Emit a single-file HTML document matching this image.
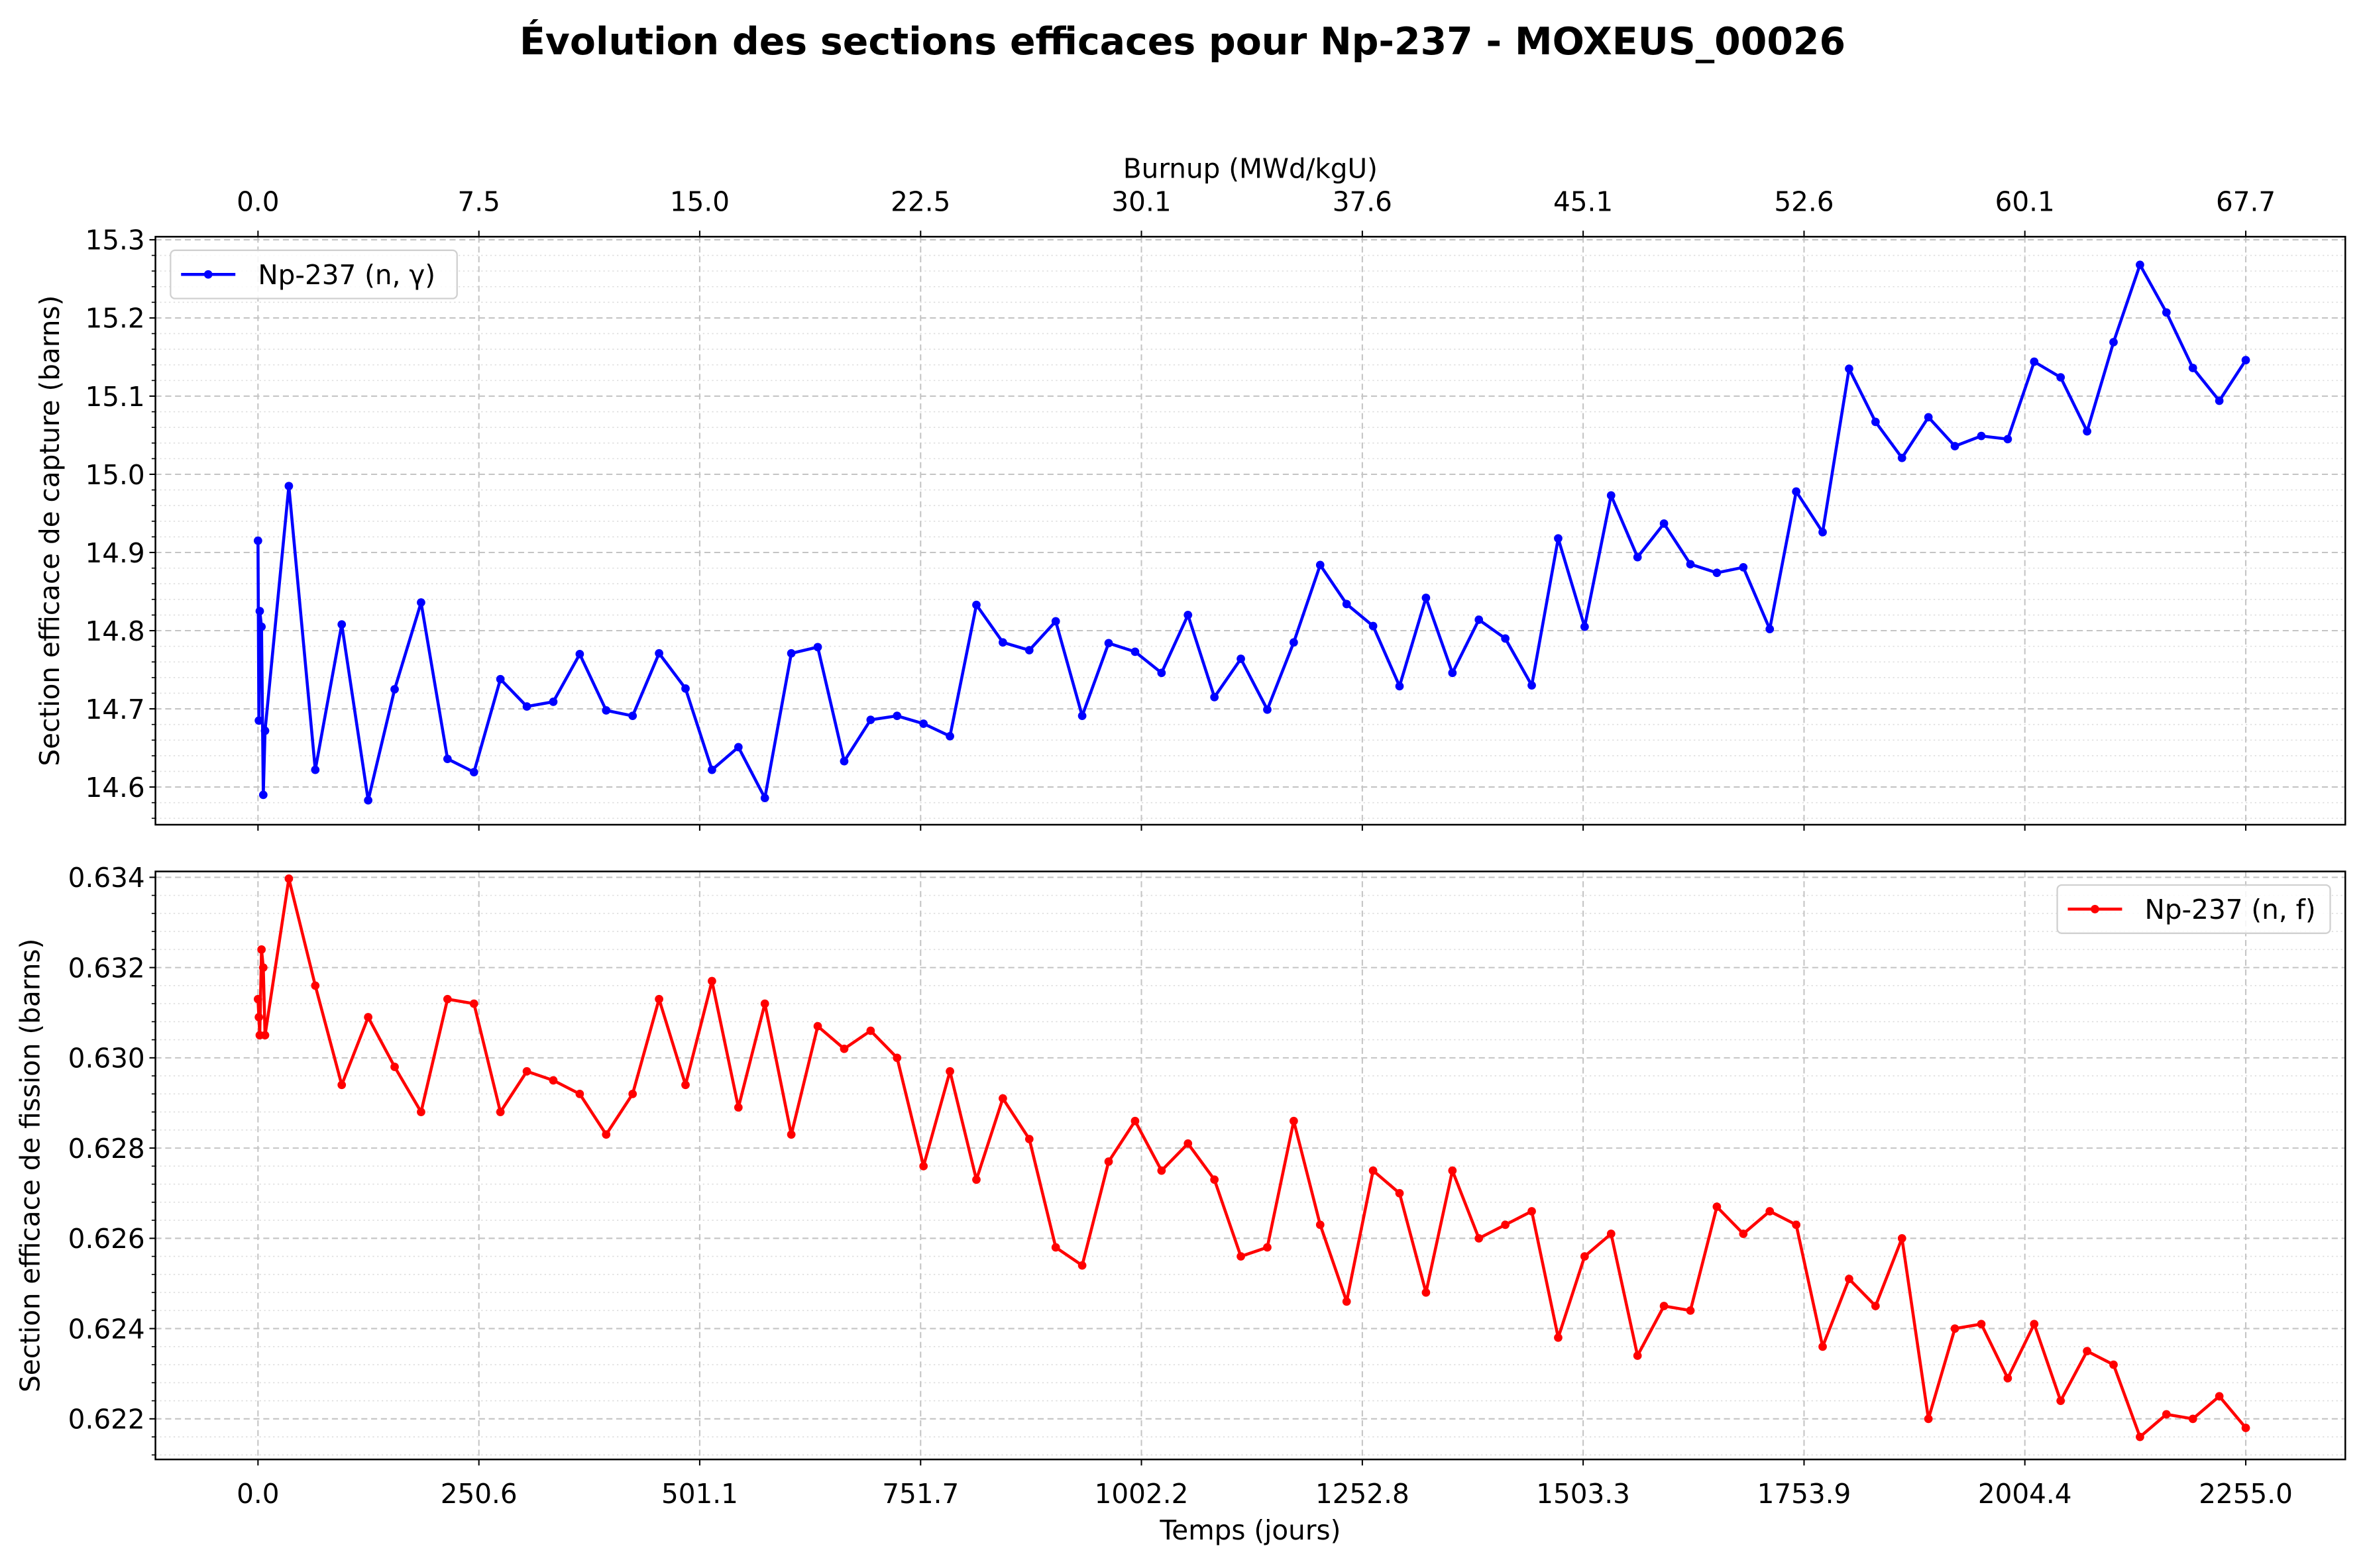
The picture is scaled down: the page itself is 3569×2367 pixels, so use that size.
<!DOCTYPE html>
<html><head><meta charset="utf-8"><style>
html,body{margin:0;padding:0;background:#fff}
svg{display:block;font-family:"DejaVu Sans","Liberation Sans",sans-serif}
</style></head><body>
<svg id="chart" width="3569" height="2367" viewBox="0 0 1568 1040" xmlns="http://www.w3.org/2000/svg">
<rect width="1568" height="1040" fill="#fff"/>
<text x="784" y="36" text-anchor="middle" font-size="25" font-weight="bold">Évolution des sections efficaces pour Np-237 - MOXEUS_00026</text>
<g id="g"></g>
</svg>
<script>
const timeStart = [0, 1, 2, 4, 6, 8];
const timeStep = 30, timeFirst = 35, nRegular = 75;
const captureValues = [14.915,14.685,14.825,14.805,14.59,14.672,
14.985,14.622,14.808,14.583,14.725,14.836,14.636,14.619,14.738,14.703,
14.709,14.77,14.698,14.691,14.771,14.726,14.622,14.651,14.586,14.771,
14.779,14.633,14.686,14.691,14.681,14.665,14.833,14.785,14.775,14.812,
14.691,14.784,14.773,14.746,14.820,14.715,14.764,14.699,14.785,14.884,
14.834,14.806,14.729,14.842,14.746,14.814,14.790,14.730,14.918,14.805,
14.973,14.894,14.937,14.885,14.874,14.881,14.802,14.978,14.926,15.135,
15.067,15.021,15.073,15.036,15.049,15.045,15.144,15.124,15.055,15.169,
15.268,15.207,15.136,15.094,15.146];
const fissionValues = [0.6313,0.6309,0.6305,0.6324,0.6320,0.6305,
0.63397,0.6316,0.6294,0.6309,0.6298,0.6288,0.6313,0.6312,0.6288,0.6297,
0.6295,0.6292,0.6283,0.6292,0.6313,0.6294,0.6317,0.6289,0.6312,0.6283,
0.6307,0.6302,0.6306,0.6300,0.6276,0.6297,0.6273,0.6291,0.6282,0.6258,
0.6254,0.6277,0.6286,0.6275,0.6281,0.6273,0.6256,0.6258,0.6286,0.6263,
0.6246,0.6275,0.6270,0.6248,0.6275,0.6260,0.6263,0.6266,0.6238,0.6256,
0.6261,0.6234,0.6245,0.6244,0.6267,0.6261,0.6266,0.6263,0.6236,0.6251,
0.6245,0.6260,0.6220,0.6240,0.6241,0.6229,0.6241,0.6224,0.6235,0.6232,
0.6216,0.6221,0.6220,0.6225,0.6218];
const xTickLabels = ["0.0","250.6","501.1","751.7","1002.2","1252.8","1503.3","1753.9","2004.4","2255.0"];
const burnupTickLabels = ["0.0","7.5","15.0","22.5","30.1","37.6","45.1","52.6","60.1","67.7"];
const captureTicks = [14.6,14.7,14.8,14.9,15.0,15.1,15.2,15.3];
const fissionTicks = [0.622,0.624,0.626,0.628,0.630,0.632,0.634];

const times = timeStart.slice();
for (let k=0;k<nRegular;k++) times.push(timeFirst+timeStep*k);

const NS="http://www.w3.org/2000/svg", g=document.getElementById('g');
function el(t,a,p){const e=document.createElementNS(NS,t);for(const k in a)e.setAttribute(k,a[k]);(p||g).appendChild(e);return e;}
const L=103,R=1555;
const FS=17.8;
const xS=v=>171+(v/2255)*(1489-171);
const panels=[
 {top:157,bot:547,min:14.5518,max:15.3039,ticks:captureTicks,minor:0.02,fmt:v=>v.toFixed(1),vals:captureValues,color:"#0000ff",name:"capture",label:"Section efficace de capture (barns)",leg:"Np-237 (n, γ)",legX:113,legY:166,legW:190,ylx:39},
 {top:578,bot:968,min:0.62110,max:0.63413,ticks:fissionTicks,minor:0.0004,fmt:v=>v.toFixed(3),vals:fissionValues,color:"#ff0000",name:"fission",label:"Section efficace de fission (barns)",leg:"Np-237 (n, f)",legX:1364,legY:587,legW:181,ylx:26}
];
const xTickVals = xTickLabels.map(Number);
panels.forEach((p,pi)=>{
 const yS=v=>p.bot-(v-p.min)/(p.max-p.min)*(p.bot-p.top);
 const grp=el('g',{});
 
 
 for(let v=Math.ceil(p.min/p.minor)*p.minor; v<=p.max; v+=p.minor){
  const y=yS(v);
  const isMajor=p.ticks.some(t=>Math.abs(t-v)<p.minor/10);
  if(!isMajor){el('line',{x1:L,x2:R,y1:y,y2:y,stroke:"#ddd","stroke-width":0.7,"stroke-dasharray":"1,2"},grp);
   el('line',{x1:L-2.5,x2:L,y1:y,y2:y,stroke:"#000","stroke-width":0.7},grp);}
 }
 p.ticks.forEach(v=>{const y=yS(v);
  el('line',{x1:L,x2:R,y1:y,y2:y,stroke:"#c4c4c4","stroke-width":0.9,"stroke-dasharray":"4,2.5"},grp);
  el('line',{x1:L-4,x2:L,y1:y,y2:y,stroke:"#000","stroke-width":0.9},grp);
  const t=el('text',{x:L-7,y:y+6.5,"text-anchor":"end","font-size":FS},grp);t.textContent=p.fmt(v);
  
  
 });
 xTickVals.forEach((v,i)=>{const x=xS(v);
  el('line',{x1:x,x2:x,y1:p.top,y2:p.bot,stroke:"#c4c4c4","stroke-width":0.9,"stroke-dasharray":"4,2.5"},grp);
  if(pi===0){el('line',{x1:x,x2:x,y1:p.top-4,y2:p.top,stroke:"#000","stroke-width":0.9},grp);
   const t=el('text',{x:x,y:140,"text-anchor":"middle","font-size":FS},grp);t.textContent=burnupTickLabels[i];
   
   
   el('line',{x1:x,x2:x,y1:p.bot,y2:p.bot+4,stroke:"#000","stroke-width":0.9},grp);
  } else {el('line',{x1:x,x2:x,y1:p.bot,y2:p.bot+4,stroke:"#000","stroke-width":0.9},grp);
   const t=el('text',{x:x,y:997,"text-anchor":"middle","font-size":FS},grp);t.textContent=xTickLabels[i];
   
   }
 });
 const pts=p.vals.map((v,i)=>xS(times[i]).toFixed(2)+","+yS(v).toFixed(2)).join(" ");
 const line=el('polyline',{points:pts,fill:"none",stroke:p.color,"stroke-width":2,"stroke-linejoin":"round"},grp);
 
 
 p.vals.forEach((v,i)=>{const c=el('circle',{cx:xS(times[i]),cy:yS(v),r:2.8,fill:p.color},grp);
  
  });
 el('rect',{x:L,y:p.top,width:R-L,height:p.bot-p.top,fill:"none",stroke:"#000","stroke-width":1.1},grp);
 const yl=el('text',{transform:`translate(${p.ylx},${(p.top+p.bot)/2}) rotate(-90)`,"text-anchor":"middle","font-size":FS},grp);
 yl.textContent=p.label;
 
 
 const lg=el('g',{},grp);
 
 
 el('rect',{x:p.legX,y:p.legY,width:p.legW,height:32,rx:3,fill:"#fff","fill-opacity":0.85,stroke:"#d0d0d0","stroke-width":1},lg);
 el('line',{x1:p.legX+7,x2:p.legX+43,y1:p.legY+16,y2:p.legY+16,stroke:p.color,"stroke-width":2},lg);
 el('circle',{cx:p.legX+25,cy:p.legY+16,r:2.8,fill:p.color},lg);
 const lt=el('text',{x:p.legX+58,y:p.legY+22.5,"font-size":FS},lg);lt.textContent=p.leg;
});
const xt=el('text',{x:829,y:1021,"text-anchor":"middle","font-size":FS});xt.textContent="Temps (jours)";


const bt=el('text',{x:829,y:118,"text-anchor":"middle","font-size":FS});bt.textContent="Burnup (MWd/kgU)";


</script>
</body></html>
